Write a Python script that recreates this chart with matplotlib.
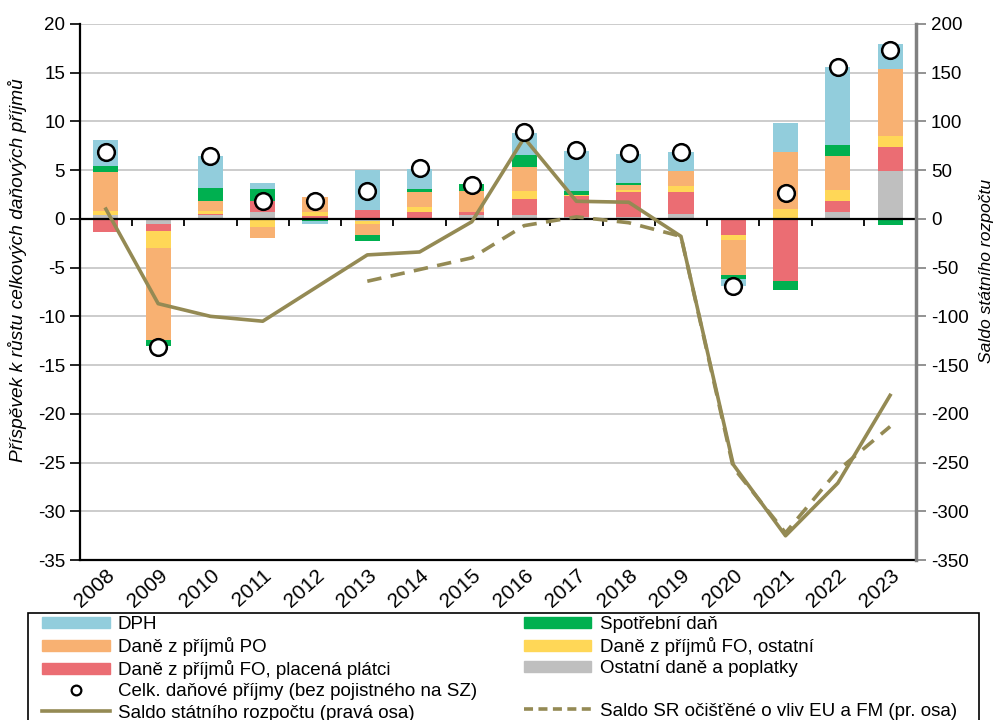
import numpy as np
import matplotlib
matplotlib.use("Agg")
import matplotlib.pyplot as plt
from matplotlib.patches import Patch, Rectangle
from matplotlib.lines import Line2D

plt.rcParams['font.family'] = ['Liberation Sans', 'DejaVu Sans']
plt.rcParams['axes.unicode_minus'] = False

# data
roky = ['2008', '2009', '2010', '2011', '2012', '2013', '2014', '2015',
        '2016', '2017', '2018', '2019', '2020', '2021', '2022', '2023']

ostatni = [0.35, -0.58, 0.35, 0.75, 0.05, -0.24, 0.0, 0.34, 0.41, 0.2, 0.15, 0.51, 0.0, 0.0, 0.65, 4.86]
fo_platci = [-1.37, -0.68, 0.15, 1.03, 0.2, 0.86, 0.68, 0.41, 1.61, 2.1, 2.6, 2.29, -1.71, -6.37, 1.13, 2.47]
fo_ostatni = [0.45, -1.71, 0.35, -0.86, 0.4, -0.34, 0.51, -0.15, 0.79, 0.15, 0.25, 0.58, -0.51, 0.99, 1.13, 1.2]
po = [4.0, -9.45, 1.0, -1.13, 1.6, -1.06, 1.54, 2.09, 2.5, 0.0, 0.45, 1.54, -3.56, 5.82, 3.49, 6.88]
spotrebni = [0.58, -0.65, 1.35, 1.23, -0.2, -0.68, 0.34, 0.75, 1.2, 0.45, 0.25, 0.0, -0.34, -0.92, 1.2, -0.62]
dph = [2.67, 0.0, 3.2, 0.68, -0.35, 4.18, 2.05, 0.0, 2.33, 4.1, 2.95, 1.92, -0.82, 3.05, 7.98, 2.47]
celkove = [6.8, -13.1, 6.45, 1.8, 1.8, 2.85, 5.2, 3.45, 8.9, 7.05, 6.7, 6.85, -6.9, 2.65, 15.6, 17.3]

saldo = [10, -87, -100, -105, -71, -37, -34, -3, 83, 18, 17, -18, -252, -325, -271, -181]
saldo_sr = [np.nan] * 5 + [-64, -52, -40, -7, 2, -4, -18, -255, -322, -258, -213]

# barvy
c_dph = '#92CDDC'
c_spot = '#00B050'
c_po = '#F8B172'
c_foo = '#FFD757'
c_fop = '#EB6D73'
c_ost = '#BFBFBF'
c_line = '#948A54'

serie = [(ostatni, c_ost), (fo_platci, c_fop), (fo_ostatni, c_foo),
         (po, c_po), (spotrebni, c_spot), (dph, c_dph)]

x = np.arange(len(roky))

fig = plt.figure(figsize=(9.97, 7.2), dpi=100)
ax = fig.add_axes([0.080, 0.222, 0.839, 0.745])
ax2 = ax.twinx()

# skladané sloupce (kladné nahoru, záporné dolů)
pos_bottom = np.zeros(len(x))
neg_bottom = np.zeros(len(x))
for vals, col in serie:
    v = np.array(vals)
    p = np.where(v > 0, v, 0)
    n = np.where(v < 0, v, 0)
    ax.bar(x, p, 0.48, bottom=pos_bottom, color=col, zorder=2)
    ax.bar(x, n, 0.48, bottom=neg_bottom, color=col, zorder=2)
    pos_bottom += p
    neg_bottom += n

ax.set_xlim(-0.5, len(x) - 0.5)
ax.set_ylim(-35, 20)
ax.set_yticks(np.arange(-35, 21, 5))
ax.yaxis.grid(True, color='#C8C8C8', lw=1.3, zorder=0)
ax.set_axisbelow(True)
ax.axhline(0, color='black', lw=1.6, zorder=3)
ax.vlines(x[:-1] + 0.5, -0.75, 0, color='black', lw=1.3, zorder=3)

ax.set_xticks(x)
ax.set_xticklabels(roky, rotation=42, ha='right', rotation_mode='anchor', fontsize=15)
ax.tick_params(axis='x', length=0, pad=4)
ax.tick_params(axis='y', labelsize=13.5, length=7, width=1.2, direction='out')
ax.spines['top'].set_visible(False)
ax.spines['right'].set_visible(False)
ax.spines['left'].set_linewidth(1.6)
ax.spines['bottom'].set_linewidth(1.6)
ax.set_ylabel('Příspěvek k růstu celkových daňových příjmů', fontsize=13.8,
              style='italic', va='center', ha='center')
ax.yaxis.set_label_coords(-0.074, 0.541)

# pravá osa - saldo
ax2.plot(x, saldo, color=c_line, lw=2.6, zorder=3)
ax2.plot(x, saldo_sr, color=c_line, lw=2.6, ls=(0, (4, 2.6)), zorder=3)
ax2.plot(x, celkove, 'o', transform=ax.transData, ms=12, mfc='white',
         mec='black', mew=1.8, zorder=5)
ax2.set_ylim(-350, 200)
ax2.set_yticks(np.arange(-350, 201, 50))
ax2.tick_params(axis='y', labelsize=13.5, length=7, width=1.2, color='#808080')
for s in ['top', 'left', 'bottom']:
    ax2.spines[s].set_visible(False)
ax2.spines['right'].set_color('#808080')
ax2.spines['right'].set_linewidth(2.5)
ax2.set_ylabel('Saldo státního rozpočtu', fontsize=12.6, style='italic',
               va='center', ha='center')
ax2.yaxis.set_label_coords(1.0835, 0.539)

# legenda
prazdny = Line2D([], [], linestyle='none')
handles = [
    Patch(color=c_dph), Patch(color=c_po), Patch(color=c_fop),
    Line2D([], [], marker='o', ls='none', ms=7, mfc='white', mec='black', mew=1.6),
    Line2D([], [], color=c_line, lw=2.6),
    Patch(color=c_spot), Patch(color=c_foo), Patch(color=c_ost),
    prazdny,
    Line2D([], [], color=c_line, lw=2.6, ls=(0, (2.5, 1.5))),
]
labels = [
    'DPH', 'Daně z příjmů PO', 'Daně z příjmů FO, placená plátci',
    'Celk. daňové příjmy (bez pojistného na SZ)', 'Saldo státního rozpočtu (pravá osa)',
    'Spotřební daň', 'Daně z příjmů FO, ostatní', 'Ostatní daně a poplatky',
    '', 'Saldo SR očišťěné o vliv EU a FM (pr. osa)',
]
leg = fig.legend(handles, labels, ncol=2, loc='upper left',
                 bbox_to_anchor=(42 / 997, 1 - 616 / 720),
                 fontsize=13.5, frameon=False, handlelength=3.6, handleheight=0.55,
                 handletextpad=0.45, labelspacing=0.22, borderpad=0,
                 columnspacing=2.5, borderaxespad=0)
ramec = Rectangle((28 / 997, -0.05), (979 - 28) / 997, 0.05 + 1 - 613 / 720,
                  transform=fig.transFigure, fill=False, ec='black', lw=1.2)
fig.patches.append(ramec)

fig.savefig('out.png', dpi=100)
